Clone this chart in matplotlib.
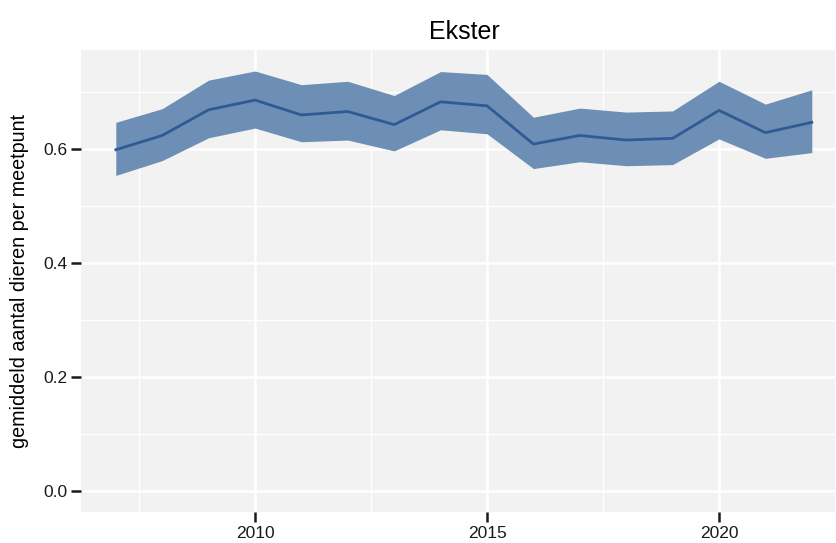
import matplotlib
matplotlib.use("Agg")
import matplotlib.pyplot as plt
from matplotlib.ticker import FixedLocator

years = [2007, 2008, 2009, 2010, 2011, 2012, 2013, 2014, 2015, 2016, 2017, 2018, 2019, 2020, 2021, 2022]
mean = [0.598, 0.623, 0.668, 0.685, 0.659, 0.665, 0.642, 0.682, 0.675, 0.608, 0.623, 0.615, 0.618, 0.667, 0.628, 0.646]
upper = [0.646, 0.670, 0.720, 0.736, 0.712, 0.718, 0.693, 0.735, 0.730, 0.655, 0.671, 0.664, 0.666, 0.718, 0.678, 0.703]
lower = [0.553, 0.579, 0.619, 0.636, 0.612, 0.615, 0.596, 0.633, 0.626, 0.565, 0.577, 0.570, 0.572, 0.617, 0.583, 0.593]
title = "Ekster"
ylabel = "gemiddeld aantal dieren per meetpunt"
xticks = [2010, 2015, 2020]
yticks = [0.0, 0.2, 0.4, 0.6]

plt.rcParams['font.family'] = ['Liberation Sans', 'DejaVu Sans']

fig = plt.figure(figsize=(8.37, 5.43), dpi=100)
ax = fig.add_axes([81/837, 1 - 512/543, (835 - 81)/837, (512 - 50)/543])
ax.set_facecolor('#F2F2F2')

ax.fill_between(years, lower, upper, color='#6D8EB5', linewidth=0, zorder=3)
ax.plot(years, mean, color='#2F5B94', linewidth=2.0, zorder=4)

ax.set_xlim(2006.25, 2022.5)
ax.set_ylim(-0.0368, 0.7728)

ax.xaxis.set_major_locator(FixedLocator(xticks))
ax.yaxis.set_major_locator(FixedLocator(yticks))
ax.xaxis.set_minor_locator(FixedLocator([2007.5, 2012.5, 2017.5, 2022.5]))
ax.yaxis.set_minor_locator(FixedLocator([0.1, 0.3, 0.5, 0.7]))
ax.set_xticklabels([str(x) for x in xticks])
ax.set_yticklabels([f"{y:.1f}" for y in yticks])

ax.grid(which='major', color='white', linewidth=1.8, zorder=0)
ax.grid(which='minor', color='white', linewidth=0.9, zorder=0)
ax.set_axisbelow(True)
for s in ax.spines.values():
    s.set_visible(False)

ax.tick_params(which='major', length=7, width=1.8, color='#1a1a1a', labelsize=12.5, labelcolor='#1a1a1a', pad=3)
ax.tick_params(which='minor', length=0)

ax.set_title(title, fontsize=18, color='black', pad=8, x=0.508)
ax.set_ylabel(ylabel, fontsize=14.2, color='black', labelpad=10)

fig.savefig('out.png', dpi=100)
